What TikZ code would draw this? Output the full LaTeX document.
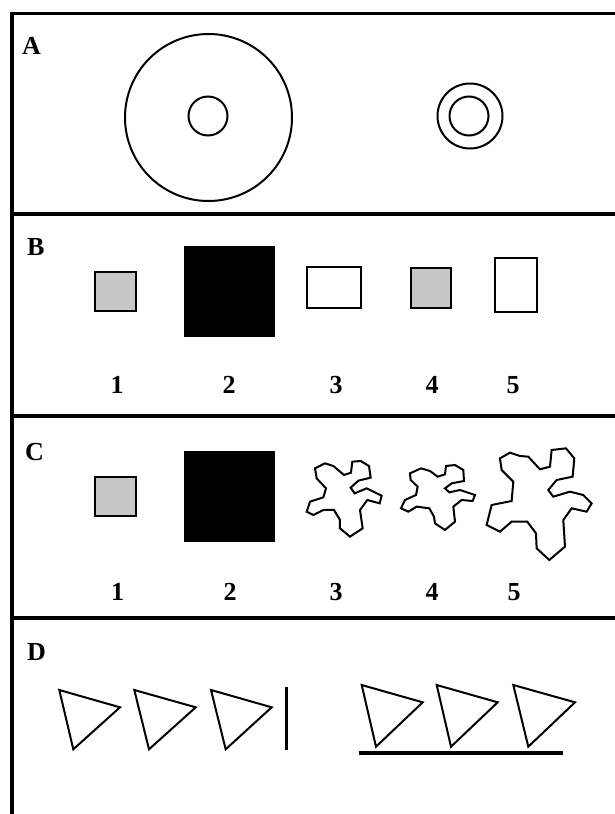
\documentclass[tikz,border=0pt]{standalone}
\usepackage{fontspec}
\setmainfont{Liberation Serif}
\begin{document}
\begin{tikzpicture}[x=1pt,y=-1pt,
  frame/.style={line width=3.6pt},
  outl/.style={line width=2pt},
  box/.style={line width=2.6pt},
  stip/.style={box,fill=black!22},
  lab/.style={font=\bfseries\fontsize{26}{26}\selectfont,inner sep=0pt,anchor=base west},
  num/.style={font=\bfseries\fontsize{26}{26}\selectfont,inner sep=0pt,anchor=base},
  blob/.style={line width=2pt,line join=miter}]
\useasboundingbox (0,0) rectangle (615,814);
% frame
\coordinate (tl) at (12,13.5);
\coordinate (tr) at (615,13.5);
\coordinate (bl) at (12,814);
\draw[frame] (tr) -- (tl) -- (bl);
\foreach \yy/\nm in {214/d1,416/d2,618/d3}{
  \coordinate (\nm l) at (12,\yy);
  \coordinate (\nm r) at (615,\yy);
  \draw[frame] (\nm l) -- (\nm r);
}
% labels
\node[lab] (la) at (22,54.5) {A};
\node[lab] (lb) at (27,255) {B};
\node[lab] (lc) at (25,460) {C};
\node[lab] (ld) at (27,660) {D};
% A
\draw[outl] (208.5,117.5) circle[radius=83.5];
\draw[outl] (208,116) circle[radius=19.5];
\draw[outl] (470,116) circle[radius=32.5];
\draw[outl] (469,116) circle[radius=19.5];
% B
\draw[stip] (95,272) rectangle (136,311);
\fill (184,246) rectangle (275,337);
\draw[box] (307,267) rectangle (361,308);
\draw[stip] (411,268) rectangle (451,308);
\draw[box] (495,258) rectangle (537,312);
\node[num] (b1) at (117,393) {1};
\node[num] (b2) at (229,393) {2};
\node[num] (b3) at (336,393) {3};
\node[num] (b4) at (432,393) {4};
\node[num] (b5) at (513,393) {5};
% C
\draw[stip] (95,477) rectangle (136,516);
\fill (184,451) rectangle (275,542);
\node[num] (c1) at (117.5,600) {1};
\node[num] (c2) at (230,600) {2};
\node[num] (c3) at (336,600) {3};
\node[num] (c4) at (432,600) {4};
\node[num] (c5) at (514,600) {5};
\begin{scope}[xshift=290pt,yshift=-440pt,x=0.3333pt,y=-0.3333pt]
\draw[blob] (75,85) -- (105,70) -- (130,78) -- (162,105) -- (183,98) -- (187,65) -- (212,63) -- (237,78) -- (242,113) -- (205,122) -- (182,143) -- (194,160) -- (230,145) -- (275,167) -- (269,190) -- (232,180) -- (210,210) -- (218,265) -- (180,290) -- (150,265) -- (150,240) -- (132,210) -- (100,210) -- (70,225) -- (50,215) -- (60,185) -- (100,172) -- (108,145) -- (80,115) -- cycle;
\draw[blob] (360,100) -- (393,85) -- (420,93) -- (443,110) -- (465,103) -- (468,78) -- (495,75) -- (520,90) -- (522,123) -- (485,130) -- (465,145) -- (478,157) -- (510,150) -- (555,165) -- (548,183) -- (515,180) -- (490,200) -- (495,245) -- (465,270) -- (435,250) -- (432,230) -- (418,205) -- (380,200) -- (355,215) -- (333,205) -- (345,180) -- (378,165) -- (383,140) -- (362,120) -- cycle;
\draw[blob] (630,55) -- (660,38) -- (690,48) -- (715,50) -- (750,88) -- (780,80) -- (785,30) -- (828,25) -- (853,55) -- (848,110) -- (800,120) -- (775,150) -- (790,170) -- (840,155) -- (880,165) -- (905,190) -- (890,215) -- (845,205) -- (820,240) -- (825,320) -- (778,360) -- (740,325) -- (738,280) -- (712,245) -- (665,245) -- (630,275) -- (590,255) -- (605,195) -- (665,183) -- (670,125) -- (635,90) -- cycle;
\end{scope}
% D
\draw[outl] (59.3,690) -- (120,707.3) -- (73.3,749.3) -- cycle;
\draw[outl] (134.3,690) -- (195.7,707.3) -- (149,749.3) -- cycle;
\draw[outl] (211,690) -- (271.7,707.3) -- (225.7,749.3) -- cycle;
\coordinate (v1) at (286.7,686.7);
\coordinate (v2) at (286.7,750);
\draw[line width=3pt] (v1) -- (v2);
\draw[outl] (361.7,685) -- (422.7,702.3) -- (376,746.7) -- cycle;
\draw[outl] (436.7,685) -- (497.7,702.3) -- (451,746.7) -- cycle;
\draw[outl] (513.3,685) -- (575,702.3) -- (528.3,746.7) -- cycle;
\coordinate (h1) at (359.3,752.7);
\coordinate (h2) at (562.7,752.7);
\draw[line width=4pt] (h1) -- (h2);
\end{tikzpicture}
\end{document}
